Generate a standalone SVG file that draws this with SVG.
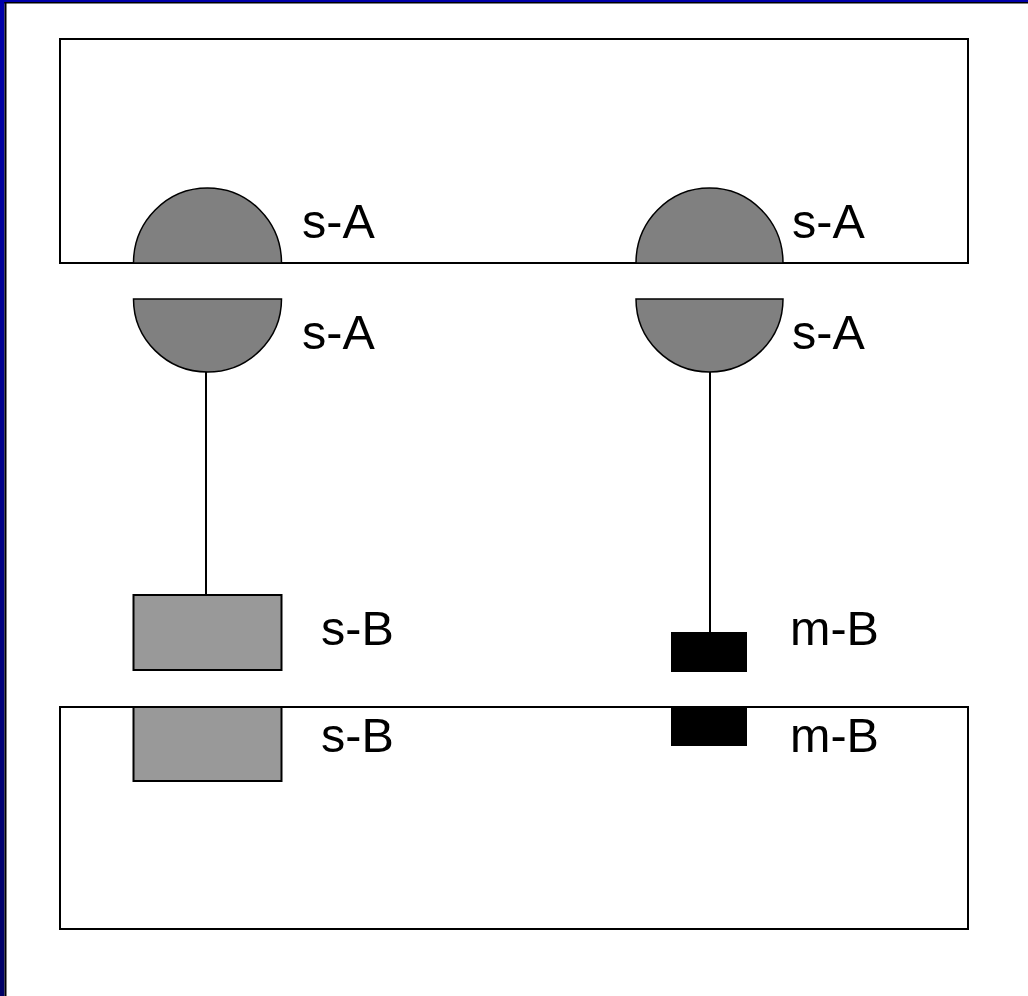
<svg xmlns="http://www.w3.org/2000/svg" width="1028" height="996" viewBox="0 0 1028 996">
<defs>
<linearGradient id="bar" x1="0" y1="0" x2="0" y2="1">
<stop offset="0" stop-color="#0000AA"/>
<stop offset="1" stop-color="#000066"/>
</linearGradient>
<style>
.box{fill:none;stroke:#000;stroke-width:2}
.dome{fill:#808080;stroke:#000;stroke-width:1.5}
.sb{fill:#999999;stroke:#000;stroke-width:2}
.mb{fill:#000;stroke:#000;stroke-width:1}
.lbl{font-family:"Liberation Sans",Arial,sans-serif;font-size:48.5px;fill:#000}
.wire{stroke:#000;stroke-width:2;fill:none}
</style>
</defs>
<rect x="0" y="0" width="1028" height="996" fill="#fff"/>
<rect x="0" y="0" width="1028" height="2" fill="#0000AA"/>
<rect x="0" y="2" width="1028" height="1.5" fill="#000"/>
<rect x="0" y="0" width="4.5" height="996" fill="url(#bar)"/>
<rect x="4.5" y="2" width="2" height="994" fill="#000"/>

<g id="top-block">
<rect class="box" x="60" y="39" width="908" height="224"/>
</g>
<g id="bottom-block">
<rect class="box" x="60" y="707" width="908" height="222"/>
</g>

<g id="sA-top-left">
<path class="dome" d="M133.5,263 A74,75 0 0 1 281.5,263 Z"/>
<text class="lbl" x="302" y="238">s-A</text>
</g>
<g id="sA-top-right">
<path class="dome" d="M636,263 A73.5,75 0 0 1 783,263 Z"/>
<text class="lbl" x="792" y="238">s-A</text>
</g>
<g id="sA-low-left">
<path class="dome" d="M133.5,299 L281.5,299 A74,73 0 0 1 133.5,299 Z"/>
<text class="lbl" x="302" y="349">s-A</text>
</g>
<g id="sA-low-right">
<path class="dome" d="M636,299 L783,299 A73.5,73 0 0 1 636,299 Z"/>
<text class="lbl" x="792" y="349">s-A</text>
</g>

<g id="sB-upper">
<rect class="sb" x="133.5" y="595" width="148" height="75"/>
<text class="lbl" x="321" y="645">s-B</text>
</g>
<g id="sB-lower">
<rect class="sb" x="133.5" y="707" width="148" height="74"/>
<text class="lbl" x="321" y="752">s-B</text>
</g>
<g id="mB-upper">
<rect class="mb" x="671.5" y="632.5" width="75" height="39"/>
<text class="lbl" x="790" y="645">m-B</text>
</g>
<g id="mB-lower">
<rect class="mb" x="671.5" y="707" width="75" height="38.5"/>
<text class="lbl" x="790" y="752">m-B</text>
</g>

<g id="connectors">
<line class="wire" x1="206" y1="372" x2="206" y2="595"/>
<line class="wire" x1="710" y1="372" x2="710" y2="632"/>
</g>
</svg>
